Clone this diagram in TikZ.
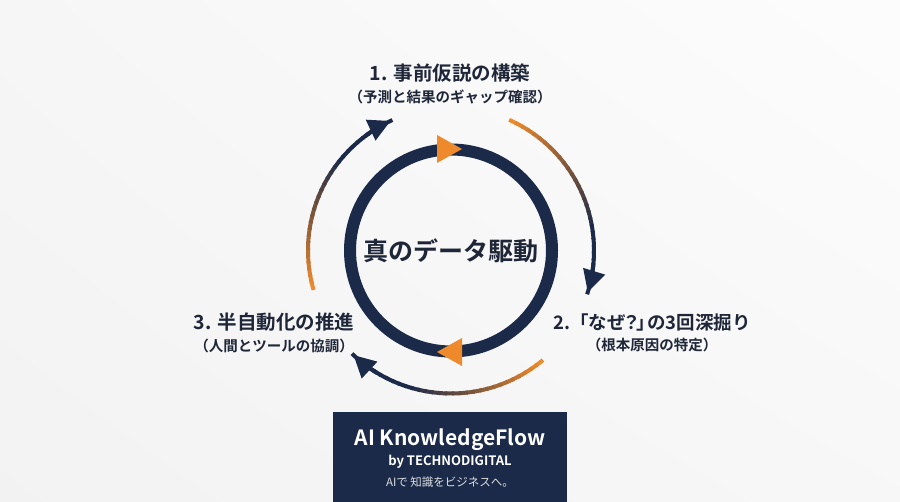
\documentclass[tikz,border=0pt]{standalone}
\usepackage{fontspec}
\setmainfont{Noto Sans CJK JP}[BoldFont={Noto Sans CJK JP Bold}]
\definecolor{kfnavy}{HTML}{1B2A48}
\definecolor{kforange}{HTML}{EE8A2C}
\definecolor{kftext}{HTML}{1E2638}
\usetikzlibrary{arrows.meta, positioning, shadings}

\begin{document}
\begin{tikzpicture}[x=1pt, y=1pt,
  steptitle/.style={font=\bfseries\fontsize{19.5}{22}\selectfont, text=kftext, inner sep=0pt},
  stepsub/.style={font=\bfseries\fontsize{14.5}{16}\selectfont, text=kftext, inner sep=0pt},
  flowtip/.style={-{Triangle[length=22pt, width=22pt]}, line width=4pt, kfnavy}]
\shade[upper left=white!93!gray, upper right=white!98!gray, lower left=white!90!gray, lower right=white!94!gray] (0,0) rectangle (900,502);
\coordinate (c) at (451,251.5);
\draw[kfnavy, line width=12pt] (c) circle[radius=101];
\node[font=\bfseries\fontsize{25}{28}\selectfont, text=kftext] (core) at (c) {真のデータ駆動};
\fill[kforange] (437,367) -- (437,339) -- (462,353) -- cycle;
\fill[kforange] (462,164) -- (462,136) -- (437,150) -- cycle;
\foreach \a/\b in {196/115, 66/-17, -50/-133} {
  \foreach \i in {0,...,29} {
    \pgfmathsetmacro\s{\a+(\b-\a)*\i/30}
    \pgfmathsetmacro\e{\a+(\b-\a)*(\i+1.3)/30}
    \pgfmathtruncatemacro\p{max(0,100-\i*100/20)}
    \draw[line width=4pt, kforange!\p!kfnavy] (c) ++(\s:143) arc[start angle=\s, end angle=\e, radius=143];
  }
  \draw[flowtip] (c) ++(\b+12:143) arc[start angle=\b+12, end angle=\b, radius=143];
}
\node[steptitle] (s1) at (450,429) {1. 事前仮説の構築};
\node[stepsub, below=7pt of s1] (s1sub) {（予測と結果のギャップ確認）};
\node[steptitle, font=\bfseries\fontsize{18.5}{22}\selectfont] (s2) at (652,180) {2.「なぜ\kern-.2em？\kern-.2em」\kern-.45em の3回深掘り};
\node[stepsub, below=7pt of s2] (s2sub) {（根本原因の特定）};
\node[steptitle] (s3) at (274,180) {3. 半自動化の推進};
\node[stepsub, below=7pt of s3] (s3sub) {（人間とツールの協調）};
\node[fill=kfnavy, minimum width=234pt, minimum height=90pt, inner sep=0pt] (brand) at (450,45) {};
\node[font=\bfseries\fontsize{21}{23}\selectfont, text=white] (bname) at (450,62) {AI KnowledgeFlow};
\node[font=\bfseries\fontsize{13}{15}\selectfont, text=white] (bby) at (450,40) {by TECHNODIGITAL};
\node[font=\fontsize{11.5}{13}\selectfont, text=white!85!kfnavy] (btag) at (450,20) {AIで 知識をビジネスへ。};
\end{tikzpicture}
\end{document}
